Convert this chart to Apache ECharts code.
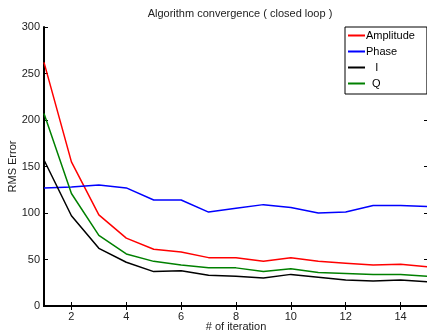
<!DOCTYPE html>
<html><head><meta charset="utf-8">
<script src="https://cdn.jsdelivr.net/npm/echarts@6/dist/echarts.min.js"></script>
<style>html,body{margin:0;padding:0;background:#fff}#c{width:427px;height:333px}</style>
</head><body><div id="c"></div>
<script>
const iterations = [1,2,3,4,5,6,7,8,9,10,11,12,13,14,15];
const amplitude = [262,155,98,73,61,58,52,52,48,52,48,46,44,45,42];
const phase = [127,128,130,127,114,114,101,105,109,106,100,101,108,108,107];
const seriesI = [157,97,62,47,37,38,33,32,30,34,31,28,27,28,26];
const seriesQ = [207,121,76,56,48,44,41,41,37,40,36,35,34,34,32];
const xTicks = [2,4,6,8,10,12,14];
const yTicks = [0,50,100,150,200,250,300];
const names = ['Amplitude','Phase','I','Q'];
const legendText = {'Amplitude':'Amplitude','Phase':'Phase','I':'   I','Q':'  Q'};
const colors = ['#ff0000','#0000ff','#000000','#008000'];
const data = [amplitude, phase, seriesI, seriesQ];

const font = 'Liberation Sans, Arial, sans-serif';
const chart = echarts.init(document.getElementById('c'), null, {renderer:'canvas'});
const axisLine = {show:true, lineStyle:{color:'#000', width:2}};
chart.setOption({
  animation:false,
  textStyle:{fontFamily:font},
  title:{text:'Algorithm convergence ( closed loop )', left:235, top:3, textAlign:'center',
    textStyle:{fontSize:11, fontWeight:'normal', color:'#222', fontFamily:font}},
  legend:{left:345, top:27, orient:'vertical', icon:'rect', itemWidth:17, itemHeight:2,
    itemGap:5, padding:[3,12,5,3], borderColor:'#000', borderWidth:1, backgroundColor:'#fff',
    textStyle:{fontSize:11, color:'#000', fontFamily:font, padding:[0,0,0,-4]},
    formatter:n=>legendText[n], data:names},
  grid:{left:44, right:-1, top:27, bottom:27, outerBoundsMode:'none', containLabel:false},
  xAxis:[{type:'value', min:1, max:15, position:'bottom',
    name:'# of iteration', nameLocation:'middle', nameGap:15, nameMoveOverlap:false,
    nameTextStyle:{fontSize:11, color:'#222', fontFamily:font},
    axisLine, axisTick:{show:true, inside:true, length:4, customValues:xTicks, lineStyle:{color:'#000',width:1}},
    axisLabel:{customValues:xTicks, fontSize:11, color:'#222', margin:5, fontFamily:font},
    splitLine:{show:false}},
   {type:'value', min:1, max:15, position:'top',
    axisLine, axisTick:{show:true, inside:true, length:4, customValues:xTicks, lineStyle:{color:'#000',width:1}},
    axisLabel:{show:false}, splitLine:{show:false}}],
  yAxis:[{type:'value', min:0, max:300, interval:50, position:'left',
    name:'RMS Error', nameLocation:'middle', nameGap:26, nameRotate:90, nameMoveOverlap:false,
    nameTextStyle:{fontSize:11, color:'#222', fontFamily:font},
    axisLine, axisTick:{show:true, inside:true, length:4, lineStyle:{color:'#000',width:1}},
    axisLabel:{fontSize:11, color:'#222', margin:4, fontFamily:font},
    splitLine:{show:false}},
   {type:'value', min:0, max:300, interval:50, position:'right',
    axisLine, axisTick:{show:true, inside:true, length:4, lineStyle:{color:'#000',width:1}},
    axisLabel:{show:false}, splitLine:{show:false}}],
  series: names.map((n,i)=>({name:n, type:'line', showSymbol:false, symbol:'none',
    data: iterations.map((x,j)=>[x, data[i][j]]),
    lineStyle:{color:colors[i], width:1.5}, itemStyle:{color:colors[i]}, z:3}))
});
</script></body></html>
